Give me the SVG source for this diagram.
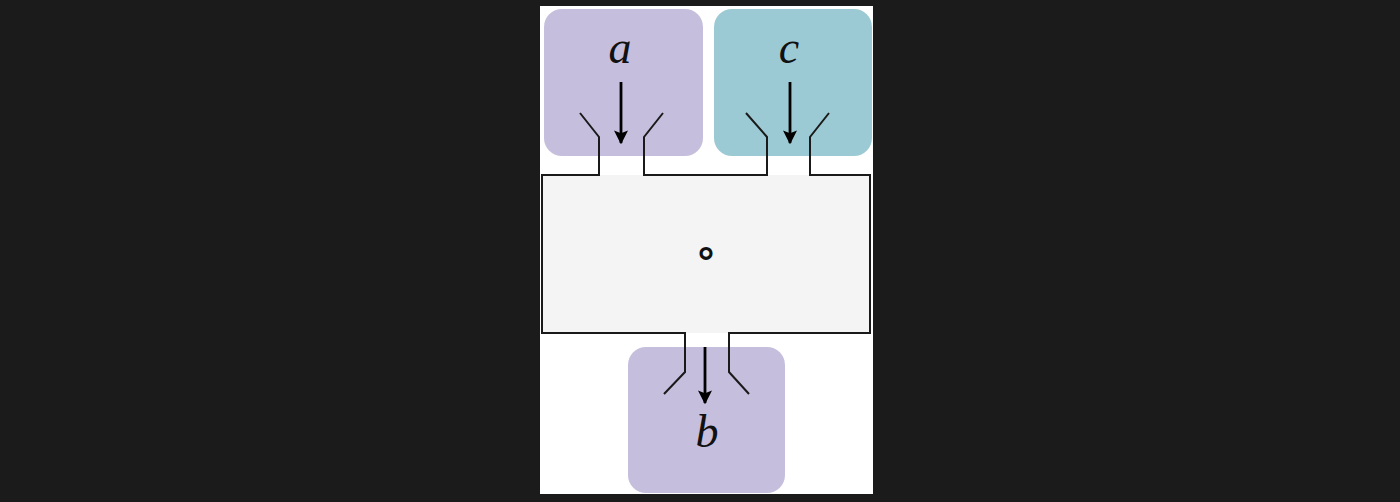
<svg xmlns="http://www.w3.org/2000/svg" width="1400" height="502" viewBox="0 0 1400 502">
<style>
.lbl{font-family:"Liberation Serif",serif;font-style:italic;font-size:46px;fill:#111;text-anchor:middle}
.wire{fill:none;stroke:#1a1a1a;stroke-width:2}
.arr{stroke:#000;stroke-width:2.8;fill:none}
</style>
<defs>
<marker id="ah" viewBox="0 0 10 10" refX="9" refY="5" markerWidth="5" markerHeight="5" markerUnits="strokeWidth" orient="auto">
<path d="M0,0 L10,5 L0,10 L2,5 Z" fill="#000"/>
</marker>
</defs>
<rect width="1400" height="502" fill="#1b1b1b"/>
<rect x="540" y="6" width="333" height="488" fill="#ffffff"/>
<g id="node-a">
<rect x="544" y="9" width="159" height="147" rx="18" fill="#c5bedd"/>
<text class="lbl" x="620" y="63">a</text>
</g>
<g id="node-c">
<rect x="714" y="9" width="158" height="147" rx="18" fill="#9ccad4"/>
<text class="lbl" x="789" y="63">c</text>
</g>
<g id="node-b">
<rect x="628" y="347" width="157" height="146" rx="18" fill="#c5bedd"/>
<text class="lbl" x="707" y="447">b</text>
</g>
<g id="node-compose">
<rect x="542" y="175" width="328" height="158" fill="#f4f4f4"/>
<text x="706" y="266" font-family="DejaVu Sans, sans-serif" font-size="40" font-weight="bold" text-anchor="middle" fill="#111">∘</text>
</g>
<g id="connectors">
<path class="wire" d="M580,113 L599,137 L599,175 L542,175 L542,333 L685,333 L685,372 L664,394"/>
<path class="wire" d="M663,113 L644,137 L644,175 L767,175 L767,137 L746,113"/>
<path class="wire" d="M829,113 L810,137 L810,175 L870,175 L870,333 L729,333 L729,372 L749,394"/>
<line class="arr" x1="621" y1="82" x2="621" y2="143" marker-end="url(#ah)"/>
<line class="arr" x1="790" y1="82" x2="790" y2="143" marker-end="url(#ah)"/>
<line class="arr" x1="705" y1="347" x2="705" y2="403" marker-end="url(#ah)"/>
</g>
</svg>
